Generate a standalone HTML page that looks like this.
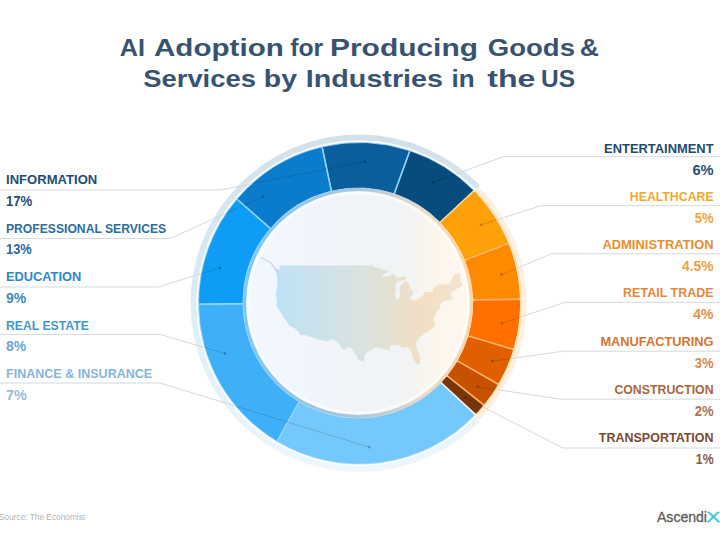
<!DOCTYPE html>
<html><head><meta charset="utf-8"><style>
html,body{margin:0;padding:0;background:#fff;width:720px;height:551px;overflow:hidden}
svg{display:block;font-family:"Liberation Sans",sans-serif}
</style></head><body>
<svg width="720" height="551" viewBox="0 0 720 551">
<defs>
<linearGradient id="haloB" gradientUnits="userSpaceOnUse" x1="0" y1="134" x2="0" y2="472">
<stop offset="0" stop-color="#d2e0e9"/><stop offset="0.5" stop-color="#dbecf6"/><stop offset="1" stop-color="#eef7fc"/>
</linearGradient>
<linearGradient id="disk" x1="0" y1="0" x2="1" y2="0">
<stop offset="0" stop-color="#f1f8fe"/><stop offset="0.35" stop-color="#f1f5fb"/><stop offset="0.62" stop-color="#eff4f6"/><stop offset="0.74" stop-color="#f3f4f2"/><stop offset="0.84" stop-color="#fcf6ec"/><stop offset="1" stop-color="#fdf7f0"/>
</linearGradient>
<linearGradient id="ib" x1="0" y1="0" x2="1" y2="0">
<stop offset="0" stop-color="#7ec8f5"/><stop offset="0.5" stop-color="#a9c6d8"/><stop offset="0.8" stop-color="#efd9c4"/><stop offset="1" stop-color="#ffd6a8"/>
</linearGradient>
<linearGradient id="map" x1="0" y1="0" x2="1" y2="0">
<stop offset="0" stop-color="#bde2f6"/><stop offset="0.45" stop-color="#d9e2e0"/><stop offset="0.78" stop-color="#f1dec4"/><stop offset="1" stop-color="#f5e5d0"/>
</linearGradient>
</defs>
<g fill="#38536f" font-size="24.7" font-weight="bold">
<text x="119.80" y="55.7" textLength="25.20" lengthAdjust="spacingAndGlyphs">AI</text>
<text x="154.00" y="55.7" textLength="129.80" lengthAdjust="spacingAndGlyphs">Adoption</text>
<text x="290.20" y="55.7" textLength="33.00" lengthAdjust="spacingAndGlyphs">for</text>
<text x="330.00" y="55.7" textLength="148.00" lengthAdjust="spacingAndGlyphs">Producing</text>
<text x="487.80" y="55.7" textLength="87.20" lengthAdjust="spacingAndGlyphs">Goods</text>
<text x="579.80" y="55.7" textLength="19.20" lengthAdjust="spacingAndGlyphs">&amp;</text>
<text x="143.20" y="87.1" textLength="112.80" lengthAdjust="spacingAndGlyphs">Services</text>
<text x="263.80" y="87.1" textLength="33.20" lengthAdjust="spacingAndGlyphs">by</text>
<text x="305.80" y="87.1" textLength="137.20" lengthAdjust="spacingAndGlyphs">Industries</text>
<text x="451.40" y="87.1" textLength="23.20" lengthAdjust="spacingAndGlyphs">in</text>
<text x="487.20" y="87.1" textLength="48.20" lengthAdjust="spacingAndGlyphs">the</text>
<text x="541.00" y="87.1" textLength="34.00" lengthAdjust="spacingAndGlyphs">US</text>
</g>
<path d="M477.39,188.06 A165.0,165.0 0 1 0 477.59,418.33" fill="none" stroke="url(#haloB)" stroke-width="7.5"/>
<path d="M477.09,417.84 A164.3,164.3 0 0 0 476.89,188.55" fill="none" stroke="#fdf0e2" stroke-width="6"/>
<path d="M475.24,190.16 A162.0,162.0 0 1 0 475.44,416.24" fill="none" stroke="#ffffff" stroke-opacity="0.85" stroke-width="2"/>
<path d="M476.08,415.29 A161.8,161.8 0 0 0 475.10,190.30" fill="none" stroke="#ffe2a8" stroke-opacity="0.9" stroke-width="1.6"/>
<circle cx="358.0" cy="303.0" r="115.0" fill="url(#disk)"/>
<path d="M475.28,411.48 A158.60000000000002,158.60000000000002 0 0 0 480.68,405.39 L447.32,378.88 A117.2,117.2 0 0 1 444.10,382.52 Z" fill="#7a3508" stroke="#7a3508" stroke-width="4.4" stroke-linejoin="round"/><path d="M483.46,401.98 A158.60000000000002,158.60000000000002 0 0 0 495.23,385.01 L458.15,363.87 A117.2,117.2 0 0 1 450.11,375.47 Z" fill="#c65200" stroke="#c65200" stroke-width="4.4" stroke-linejoin="round"/><path d="M497.45,381.21 A158.60000000000002,158.60000000000002 0 0 0 510.62,350.79 L469.65,338.64 A117.2,117.2 0 0 1 460.37,360.07 Z" fill="#e06000" stroke="#e06000" stroke-width="4.4" stroke-linejoin="round"/><path d="M511.88,346.58 A158.60000000000002,158.60000000000002 0 0 0 517.89,301.39 L475.20,302.17 A117.2,117.2 0 0 1 470.91,334.43 Z" fill="#ff7000" stroke="#ff7000" stroke-width="4.4" stroke-linejoin="round"/><path d="M517.77,297.00 A158.60000000000002,158.60000000000002 0 0 0 507.30,246.29 L467.57,261.41 A117.2,117.2 0 0 1 475.08,297.77 Z" fill="#ff8a00" stroke="#ff8a00" stroke-width="4.4" stroke-linejoin="round"/><path d="M505.66,242.21 A158.60000000000002,158.60000000000002 0 0 0 473.95,193.71 L443.12,222.43 A117.2,117.2 0 0 1 465.93,257.33 Z" fill="#fea008" stroke="#fea008" stroke-width="4.4" stroke-linejoin="round"/><path d="M473.99,190.59 A160.8,160.8 0 0 0 409.87,150.66 L394.16,193.83 A115.0,115.0 0 0 1 440.02,222.39 Z" fill="#064c7c" stroke="#a6dcfb" stroke-width="1" stroke-opacity="0.8"/><path d="M409.87,150.66 A160.8,160.8 0 0 0 322.12,146.86 L331.41,191.12 A115.0,115.0 0 0 1 394.16,193.83 Z" fill="#0a5e9c" stroke="#a6dcfb" stroke-width="1" stroke-opacity="0.8"/><path d="M322.12,146.86 A160.8,160.8 0 0 0 236.85,199.07 L270.43,228.46 A115.0,115.0 0 0 1 331.41,191.12 Z" fill="#0b7ccc" stroke="#a6dcfb" stroke-width="1" stroke-opacity="0.8"/><path d="M236.85,199.07 A160.8,160.8 0 0 0 198.50,304.28 L243.00,303.70 A115.0,115.0 0 0 1 270.43,228.46 Z" fill="#0f9cf5" stroke="#a6dcfb" stroke-width="1" stroke-opacity="0.8"/><path d="M198.50,304.28 A160.8,160.8 0 0 0 277.01,441.45 L299.15,401.80 A115.0,115.0 0 0 1 243.00,303.70 Z" fill="#3fb0f8" stroke="#a6dcfb" stroke-width="1" stroke-opacity="0.8"/><path d="M277.01,441.45 A160.8,160.8 0 0 0 475.36,414.60 L441.00,382.60 A115.0,115.0 0 0 1 299.15,401.80 Z" fill="#74c8fb" stroke="#a6dcfb" stroke-width="1" stroke-opacity="0.8"/>
<line x1="475.72" y1="414.94" x2="440.64" y2="382.25" stroke="#f2f6f8" stroke-width="1.6"/><line x1="484.17" y1="405.40" x2="446.64" y2="375.48" stroke="#ffb46a" stroke-width="1.6"/><line x1="498.69" y1="384.47" x2="456.94" y2="360.62" stroke="#ffb46a" stroke-width="1.6"/><line x1="513.85" y1="349.46" x2="467.71" y2="335.77" stroke="#ffb46a" stroke-width="1.6"/><line x1="520.55" y1="299.13" x2="472.46" y2="300.04" stroke="#ffb46a" stroke-width="1.6"/><line x1="509.00" y1="243.24" x2="464.27" y2="260.37" stroke="#ffb46a" stroke-width="1.6"/><line x1="474.34" y1="190.24" x2="439.66" y2="222.74" stroke="#ffd9a0" stroke-width="1.6"/><line x1="410.02" y1="150.18" x2="394.01" y2="194.31" stroke="#8fd3fa" stroke-width="1.6"/><line x1="322.00" y1="146.37" x2="331.52" y2="191.60" stroke="#8fd3fa" stroke-width="1.6"/><line x1="236.47" y1="198.75" x2="270.81" y2="228.78" stroke="#8fd3fa" stroke-width="1.6"/><line x1="198.00" y1="304.29" x2="243.50" y2="303.70" stroke="#8fd3fa" stroke-width="1.6"/><line x1="276.75" y1="441.88" x2="299.40" y2="401.37" stroke="#8fd3fa" stroke-width="1.6"/>
<circle cx="358.0" cy="303.0" r="113.4" fill="none" stroke="url(#ib)" stroke-width="3"/>
<circle cx="358.0" cy="303.0" r="110.0" fill="none" stroke="#ffffff" stroke-opacity="0.6" stroke-width="2.5"/>
<path d="M275.0,268.4 L275.3,270.9 L276.9,275.7 L277.3,278.5 L277.6,282.3 L276.9,289.2 L275.6,294.6 L276.6,298.5 L276.9,302.5 L276.0,305.0 L277.9,308.4 L280.5,312.6 L282.2,314.3 L283.1,316.4 L285.1,319.3 L287.4,322.5 L289.3,325.7 L293.6,327.7 L296.5,329.7 L299.4,332.8 L300.4,335.2 L307.6,335.2 L307.3,336.0 L319.3,339.4 L328.8,341.7 L328.8,339.8 L334.3,339.8 L339.2,344.0 L340.8,347.4 L344.7,350.4 L346.7,347.8 L350.9,347.4 L354.5,353.0 L357.1,356.0 L358.4,360.0 L364.0,361.8 L364.6,359.6 L364.0,356.0 L366.9,352.6 L371.8,349.7 L375.1,347.8 L381.6,348.2 L386.5,350.0 L390.4,350.4 L389.4,345.9 L394.6,344.4 L399.5,345.2 L403.1,347.8 L407.7,346.7 L410.9,350.4 L411.9,355.2 L414.8,361.1 L417.1,364.7 L419.4,364.3 L420.7,358.9 L419.1,354.1 L416.5,347.4 L416.1,342.9 L418.1,338.7 L423.3,334.4 L427.5,331.7 L432.1,328.5 L435.4,326.1 L434.1,320.9 L433.7,318.4 L435.0,315.6 L436.7,312.6 L437.3,311.4 L440.3,307.6 L440.3,304.2 L443.8,301.6 L448.7,300.3 L453.3,299.4 L451.3,295.5 L450.7,294.1 L452.6,291.0 L458.2,288.3 L463.1,285.5 L460.5,281.4 L460.5,274.9 L459.2,273.5 L455.9,273.1 L453.3,276.6 L449.7,283.2 L448.4,284.6 L438.0,284.6 L434.4,287.4 L432.8,288.3 L433.1,291.4 L428.5,292.3 L424.0,292.3 L424.3,294.1 L420.4,297.7 L415.2,300.3 L409.6,299.4 L410.6,296.8 L412.6,295.5 L412.9,293.7 L412.2,289.6 L410.9,288.7 L408.0,291.0 L409.6,287.8 L409.9,284.6 L407.0,281.8 L405.4,280.9 L404.4,281.4 L402.4,284.6 L400.2,285.5 L399.5,290.1 L400.5,294.6 L399.2,298.1 L396.2,299.9 L395.3,295.9 L395.3,291.4 L396.2,285.5 L394.9,286.4 L395.9,284.1 L397.2,281.4 L400.5,280.4 L404.4,280.0 L406.4,277.6 L404.4,276.2 L399.5,277.6 L395.9,277.1 L393.3,273.3 L389.4,276.2 L385.5,276.2 L381.3,276.6 L384.8,273.8 L389.4,270.4 L383.5,270.1 L377.7,267.4 L373.1,266.9 L372.5,264.0 L371.3,263.6 L371.3,265.5 L279.5,265.5 L279.9,269.4 L275.0,268.4 Z" fill="url(#map)"/>
<polyline points="260.9,257.3 271,263 277.5,272" fill="none" stroke="#c6dae6" stroke-width="1.3"/>
<polyline points="-2.0,190.0 220.0,190.0 251.8,183.8" fill="none" stroke="#d3d9de" stroke-width="1"/><line x1="251.8" y1="183.8" x2="365" y2="161.5" stroke="rgba(0,0,0,0.14)" stroke-width="1"/><polyline points="-2.0,238.6 170.0,238.6 226.1,213.2" fill="none" stroke="#d3d9de" stroke-width="1"/><line x1="226.1" y1="213.2" x2="263" y2="196.5" stroke="rgba(0,0,0,0.14)" stroke-width="1"/><polyline points="-2.0,287.0 158.0,287.0 201.2,273.7" fill="none" stroke="#d3d9de" stroke-width="1"/><line x1="201.2" y1="273.7" x2="220" y2="268" stroke="rgba(0,0,0,0.14)" stroke-width="1"/><polyline points="-2.0,334.4 160.0,334.4 204.7,347.5" fill="none" stroke="#d3d9de" stroke-width="1"/><line x1="204.7" y1="347.5" x2="225" y2="353.5" stroke="rgba(0,0,0,0.14)" stroke-width="1"/><polyline points="-2.0,383.0 160.0,383.0 235.8,406.2" fill="none" stroke="#d3d9de" stroke-width="1"/><line x1="235.8" y1="406.2" x2="369.3" y2="447.2" stroke="rgba(0,0,0,0.14)" stroke-width="1"/><polyline points="722.0,156.7 503.3,156.7 455.3,174.3" fill="none" stroke="#d3d9de" stroke-width="1"/><line x1="455.3" y1="174.3" x2="433" y2="182.5" stroke="rgba(0,0,0,0.14)" stroke-width="1"/><polyline points="722.0,205.6 541.0,205.6 496.7,219.8" fill="none" stroke="#d3d9de" stroke-width="1"/><line x1="496.7" y1="219.8" x2="481" y2="224.8" stroke="rgba(0,0,0,0.14)" stroke-width="1"/><polyline points="722.0,253.8 551.7,253.8 516.3,268.4" fill="none" stroke="#d3d9de" stroke-width="1"/><line x1="516.3" y1="268.4" x2="501.4" y2="274.5" stroke="rgba(0,0,0,0.14)" stroke-width="1"/><polyline points="722.0,302.3 565.0,302.3 519.5,317.3" fill="none" stroke="#d3d9de" stroke-width="1"/><line x1="519.5" y1="317.3" x2="502" y2="323.1" stroke="rgba(0,0,0,0.14)" stroke-width="1"/><polyline points="722.0,351.2 563.3,351.2 510.3,358.7" fill="none" stroke="#d3d9de" stroke-width="1"/><line x1="510.3" y1="358.7" x2="492.3" y2="361.2" stroke="rgba(0,0,0,0.14)" stroke-width="1"/><polyline points="722.0,399.2 560.6,399.2 495.1,389.4" fill="none" stroke="#d3d9de" stroke-width="1"/><line x1="495.1" y1="389.4" x2="477.6" y2="386.8" stroke="rgba(0,0,0,0.14)" stroke-width="1"/><polyline points="722.0,448.0 562.5,448.0 482.5,406.6" fill="none" stroke="#d3d9de" stroke-width="1"/><line x1="482.5" y1="406.6" x2="465" y2="397.5" stroke="rgba(0,0,0,0.14)" stroke-width="1"/>
<circle cx="365" cy="161.5" r="1.4" fill="rgba(0,0,0,0.22)"/><circle cx="263" cy="196.5" r="1.4" fill="rgba(0,0,0,0.22)"/><circle cx="220" cy="268" r="1.4" fill="rgba(0,0,0,0.22)"/><circle cx="225" cy="353.5" r="1.4" fill="rgba(0,0,0,0.22)"/><circle cx="369.3" cy="447.2" r="1.4" fill="rgba(0,0,0,0.22)"/><circle cx="433" cy="182.5" r="1.4" fill="rgba(0,0,0,0.22)"/><circle cx="481" cy="224.8" r="1.4" fill="rgba(0,0,0,0.22)"/><circle cx="501.4" cy="274.5" r="1.4" fill="rgba(0,0,0,0.22)"/><circle cx="502" cy="323.1" r="1.4" fill="rgba(0,0,0,0.22)"/><circle cx="492.3" cy="361.2" r="1.4" fill="rgba(0,0,0,0.22)"/><circle cx="477.6" cy="386.8" r="1.4" fill="rgba(0,0,0,0.22)"/><circle cx="465" cy="397.5" r="1.4" fill="rgba(0,0,0,0.22)"/>
<text x="6.0" y="184.3" fill="#1f4d74" font-size="13.4" font-weight="bold" text-anchor="start" textLength="91.3" lengthAdjust="spacingAndGlyphs">INFORMATION</text><text x="6.0" y="206.0" fill="#274e6e" font-size="14" font-weight="bold" text-anchor="start" textLength="26.3" lengthAdjust="spacingAndGlyphs">17%</text><text x="6.0" y="232.75" fill="#2a6d9e" font-size="13.4" font-weight="bold" text-anchor="start" textLength="160.2" lengthAdjust="spacingAndGlyphs">PROFESSIONAL SERVICES</text><text x="6.0" y="254.45" fill="#2d6a96" font-size="14" font-weight="bold" text-anchor="start" textLength="25.7" lengthAdjust="spacingAndGlyphs">13%</text><text x="6.0" y="281.20000000000005" fill="#2f86c8" font-size="13.4" font-weight="bold" text-anchor="start" textLength="75.2" lengthAdjust="spacingAndGlyphs">EDUCATION</text><text x="6.0" y="302.90000000000003" fill="#3c8bc0" font-size="14" font-weight="bold" text-anchor="start" textLength="20.2" lengthAdjust="spacingAndGlyphs">9%</text><text x="6.0" y="329.65000000000003" fill="#4496d0" font-size="13.4" font-weight="bold" text-anchor="start" textLength="82.8" lengthAdjust="spacingAndGlyphs">REAL ESTATE</text><text x="6.0" y="351.35" fill="#68a6d4" font-size="14" font-weight="bold" text-anchor="start" textLength="20.2" lengthAdjust="spacingAndGlyphs">8%</text><text x="6.0" y="378.1" fill="#84b6d8" font-size="13.4" font-weight="bold" text-anchor="start" textLength="146.2" lengthAdjust="spacingAndGlyphs">FINANCE &amp; INSURANCE</text><text x="6.0" y="399.8" fill="#9cbcd2" font-size="14" font-weight="bold" text-anchor="start" textLength="20.8" lengthAdjust="spacingAndGlyphs">7%</text><text x="713.6" y="152.5" fill="#1f4a70" font-size="13.4" font-weight="bold" text-anchor="end" textLength="109.5" lengthAdjust="spacingAndGlyphs">ENTERTAINMENT</text><text x="713.6" y="174.5" fill="#2a5070" font-size="14" font-weight="bold" text-anchor="end" textLength="21.2" lengthAdjust="spacingAndGlyphs">6%</text><text x="713.6" y="200.82999999999998" fill="#f0a82c" font-size="13.4" font-weight="bold" text-anchor="end" textLength="83.8" lengthAdjust="spacingAndGlyphs">HEALTHCARE</text><text x="713.6" y="222.82999999999998" fill="#f0a440" font-size="14" font-weight="bold" text-anchor="end" textLength="18.9" lengthAdjust="spacingAndGlyphs">5%</text><text x="713.6" y="249.16" fill="#e8902c" font-size="13.4" font-weight="bold" text-anchor="end" textLength="111.2" lengthAdjust="spacingAndGlyphs">ADMINISTRATION</text><text x="713.6" y="271.15999999999997" fill="#eea048" font-size="14" font-weight="bold" text-anchor="end" textLength="31.599999999999998" lengthAdjust="spacingAndGlyphs">4.5%</text><text x="713.6" y="297.49" fill="#e6883f" font-size="13.4" font-weight="bold" text-anchor="end" textLength="90.5" lengthAdjust="spacingAndGlyphs">RETAIL TRADE</text><text x="713.6" y="319.49" fill="#e89050" font-size="14" font-weight="bold" text-anchor="end" textLength="20.7" lengthAdjust="spacingAndGlyphs">4%</text><text x="713.6" y="345.82" fill="#d27532" font-size="13.4" font-weight="bold" text-anchor="end" textLength="113.2" lengthAdjust="spacingAndGlyphs">MANUFACTURING</text><text x="713.6" y="367.82" fill="#d88a50" font-size="14" font-weight="bold" text-anchor="end" textLength="18.9" lengthAdjust="spacingAndGlyphs">3%</text><text x="713.6" y="394.15" fill="#a9683a" font-size="13.4" font-weight="bold" text-anchor="end" textLength="99.2" lengthAdjust="spacingAndGlyphs">CONSTRUCTION</text><text x="713.6" y="416.15" fill="#b07550" font-size="14" font-weight="bold" text-anchor="end" textLength="18.9" lengthAdjust="spacingAndGlyphs">2%</text><text x="713.6" y="442.48" fill="#7a4a2e" font-size="13.4" font-weight="bold" text-anchor="end" textLength="114.8" lengthAdjust="spacingAndGlyphs">TRANSPORTATION</text><text x="713.6" y="464.48" fill="#8a5a40" font-size="14" font-weight="bold" text-anchor="end" textLength="17.8" lengthAdjust="spacingAndGlyphs">1%</text>
<text x="-1" y="519.5" fill="#b4b4b4" font-size="8.3">Source: The Economist</text>
<text x="657" y="521.7" fill="#606060" font-size="14.5" textLength="50" lengthAdjust="spacingAndGlyphs" stroke="#606060" stroke-width="0.35">Ascendi</text>
<text x="706.3" y="521.9" fill="#3cc6e2" font-size="15" textLength="14" lengthAdjust="spacingAndGlyphs" stroke="#3cc6e2" stroke-width="0.4">X</text>
</svg>
</body></html>
